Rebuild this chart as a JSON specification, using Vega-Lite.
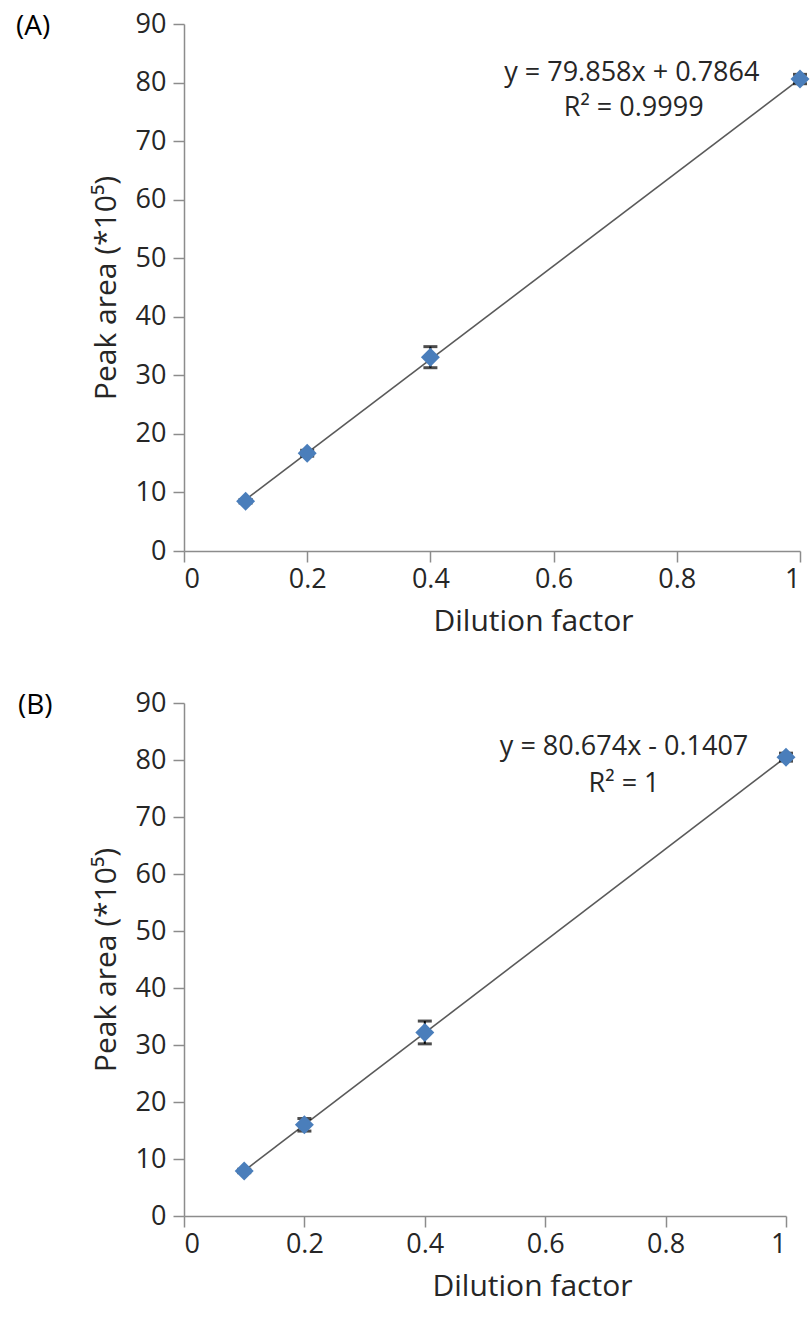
{
  "$schema": "https://vega.github.io/schema/vega-lite/v6.json",
  "padding": {"left": 15, "top": 10, "right": 5, "bottom": 5},
  "background": "white",
  "spacing": 53,
  "config": {
    "view": {"stroke": null},
    "font": "Open Sans",
    "axis": {
      "grid": false,
      "domainColor": "#8c8c8c",
      "domainWidth": 1.5,
      "tickColor": "#8c8c8c",
      "tickWidth": 1.5,
      "tickSize": 11,
      "labelFont": "Open Sans",
      "labelFontSize": 27,
      "labelColor": "#262626",
      "titleFont": "Open Sans",
      "titleFontSize": 30,
      "titleFontWeight": "normal",
      "titleColor": "#262626"
    },
    "text": {"font": "Open Sans"}
  },
  "datasets": {
    "ptsA": [
      {"x": 0.1, "y": 8.5, "lo": 8.2, "hi": 8.8},
      {"x": 0.2, "y": 16.7, "lo": 16.2, "hi": 17.2},
      {"x": 0.4, "y": 33.1, "lo": 31.3, "hi": 34.9},
      {"x": 1.0, "y": 80.6, "lo": 79.8, "hi": 81.4}
    ],
    "lineA": [
      {"x": 0.1, "y": 8.77},
      {"x": 1.0, "y": 80.64}
    ],
    "txtA": [
      {"x": 0.727, "y": 81.7, "label": "y = 79.858x + 0.7864"},
      {"x": 0.73, "y": 75.6, "label": "R² = 0.9999"}
    ],
    "tagA": [{"x": -0.245, "y": 89.5, "label": "(A)"}],
    "ptsB": [
      {"x": 0.1, "y": 7.9, "lo": 7.6, "hi": 8.2},
      {"x": 0.2, "y": 16.0, "lo": 14.9, "hi": 17.1},
      {"x": 0.4, "y": 32.2, "lo": 30.2, "hi": 34.2},
      {"x": 1.0, "y": 80.5, "lo": 79.8, "hi": 81.2}
    ],
    "lineB": [
      {"x": 0.1, "y": 7.93},
      {"x": 1.0, "y": 80.53}
    ],
    "txtB": [
      {"x": 0.731, "y": 82.2, "label": "y = 80.674x - 0.1407"},
      {"x": 0.731, "y": 75.8, "label": "R² = 1"}
    ],
    "tagB": [{"x": -0.247, "y": 89.5, "label": "(B)"}]
  },
  "vconcat": [
    {
      "width": 616,
      "height": 527,
      "encoding": {
        "x": {"field": "x", "type": "quantitative", "scale": {"domain": [0, 1], "nice": false},
              "axis": {"values": [0, 0.2, 0.4, 0.6, 0.8, 1], "format": "~g", "title": "Dilution factor", "labelPadding": 4, "titlePadding": 14, "titleX": 349}},
        "y": {"field": "y", "type": "quantitative", "scale": {"domain": [0, 90], "nice": false},
              "axis": {"values": [0, 10, 20, 30, 40, 50, 60, 70, 80, 90], "title": "Peak  area (*10⁵)", "labelPadding": 7, "titlePadding": 14}}
      },
      "layer": [
        {"data": {"name": "lineA"}, "mark": {"type": "line", "color": "#5a5a5a", "strokeWidth": 1.6}},
        {"data": {"name": "ptsA"}, "mark": {"type": "rule", "color": "black", "strokeWidth": 2}, "encoding": {"y": {"field": "lo", "type": "quantitative"}, "y2": {"field": "hi"}}},
        {"data": {"name": "ptsA"}, "mark": {"type": "tick", "orient": "horizontal", "size": 14, "thickness": 3, "color": "black"}, "encoding": {"y": {"field": "lo", "type": "quantitative"}}},
        {"data": {"name": "ptsA"}, "mark": {"type": "tick", "orient": "horizontal", "size": 14, "thickness": 3, "color": "black"}, "encoding": {"y": {"field": "hi", "type": "quantitative"}}},
        {"data": {"name": "ptsA"}, "mark": {"type": "point", "shape": "diamond", "filled": true, "size": 360, "color": "#4a7ebb", "opacity": 1}},
        {"data": {"name": "txtA"}, "mark": {"type": "text", "fontSize": 27, "color": "#262626", "align": "center", "baseline": "middle"}, "encoding": {"text": {"field": "label"}}},
        {"data": {"name": "tagA"}, "mark": {"type": "text", "fontSize": 28, "color": "black", "align": "center", "baseline": "middle"}, "encoding": {"text": {"field": "label"}}}
      ]
    },
    {
      "width": 602,
      "height": 513,
      "encoding": {
        "x": {"field": "x", "type": "quantitative", "scale": {"domain": [0, 1], "nice": false},
              "axis": {"values": [0, 0.2, 0.4, 0.6, 0.8, 1], "format": "~g", "title": "Dilution factor", "labelPadding": 4, "titlePadding": 14, "titleX": 348}},
        "y": {"field": "y", "type": "quantitative", "scale": {"domain": [0, 90], "nice": false},
              "axis": {"values": [0, 10, 20, 30, 40, 50, 60, 70, 80, 90], "title": "Peak  area (*10⁵)", "labelPadding": 7, "titlePadding": 14}}
      },
      "layer": [
        {"data": {"name": "lineB"}, "mark": {"type": "line", "color": "#5a5a5a", "strokeWidth": 1.6}},
        {"data": {"name": "ptsB"}, "mark": {"type": "rule", "color": "black", "strokeWidth": 2}, "encoding": {"y": {"field": "lo", "type": "quantitative"}, "y2": {"field": "hi"}}},
        {"data": {"name": "ptsB"}, "mark": {"type": "tick", "orient": "horizontal", "size": 14, "thickness": 3, "color": "black"}, "encoding": {"y": {"field": "lo", "type": "quantitative"}}},
        {"data": {"name": "ptsB"}, "mark": {"type": "tick", "orient": "horizontal", "size": 14, "thickness": 3, "color": "black"}, "encoding": {"y": {"field": "hi", "type": "quantitative"}}},
        {"data": {"name": "ptsB"}, "mark": {"type": "point", "shape": "diamond", "filled": true, "size": 360, "color": "#4a7ebb", "opacity": 1}},
        {"data": {"name": "txtB"}, "mark": {"type": "text", "fontSize": 27, "color": "#262626", "align": "center", "baseline": "middle"}, "encoding": {"text": {"field": "label"}}},
        {"data": {"name": "tagB"}, "mark": {"type": "text", "fontSize": 28, "color": "black", "align": "center", "baseline": "middle"}, "encoding": {"text": {"field": "label"}}}
      ]
    }
  ]
}
